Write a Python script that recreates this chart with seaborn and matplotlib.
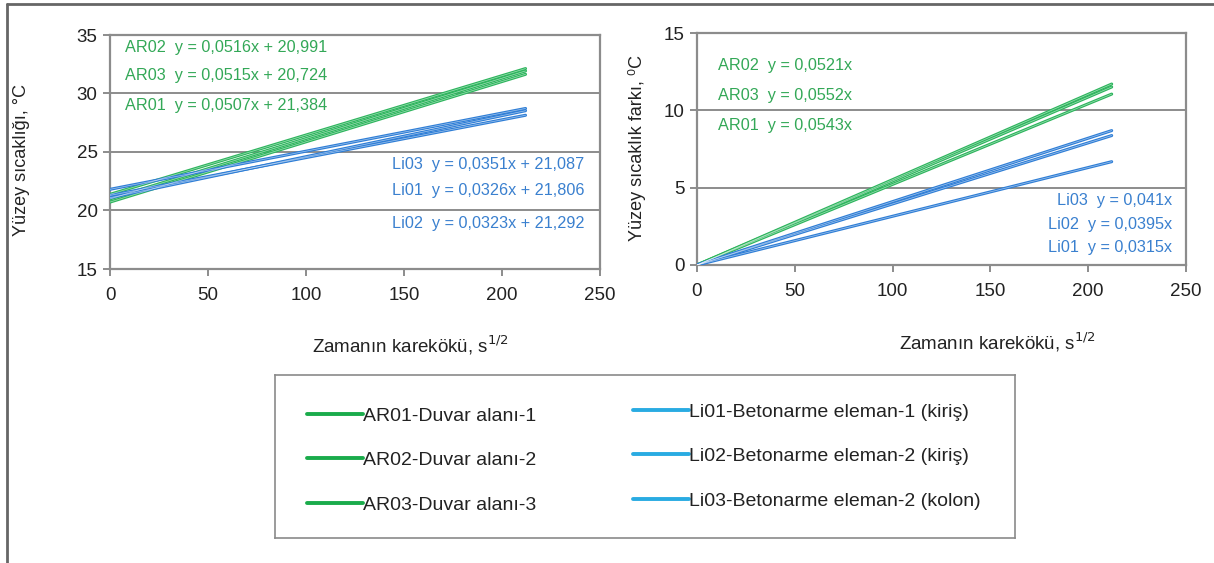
import matplotlib
matplotlib.use("Agg")
import matplotlib.pyplot as plt
from matplotlib.lines import Line2D
import seaborn as sns
import pandas as pd

# ---------------- data ----------------
series = ["AR01", "AR02", "AR03", "Li01", "Li02", "Li03"]
x_sqrt_time = [0, 212]
# Left panel: surface temperature (°C) at start / end of fit line
temp_AR01 = [21.38, 32.13]
temp_AR02 = [20.99, 31.93]
temp_AR03 = [20.72, 31.64]
temp_Li01 = [21.81, 28.72]
temp_Li02 = [21.29, 28.14]
temp_Li03 = [21.09, 28.53]
# Right panel: surface temperature difference (°C)
diff_AR01 = [0.0, 11.51]
diff_AR02 = [0.0, 11.05]
diff_AR03 = [0.0, 11.70]
diff_Li01 = [0.0, 6.68]
diff_Li02 = [0.0, 8.37]
diff_Li03 = [0.0, 8.69]

left_eq_green = ["AR02  y = 0,0516x + 20,991", "AR03  y = 0,0515x + 20,724", "AR01  y = 0,0507x + 21,384"]
left_eq_blue = ["Li03  y = 0,0351x + 21,087", "Li01  y = 0,0326x + 21,806", "Li02  y = 0,0323x + 21,292"]
right_eq_green = ["AR02  y = 0,0521x", "AR03  y = 0,0552x", "AR01  y = 0,0543x"]
right_eq_blue = ["Li03  y = 0,041x", "Li02  y = 0,0395x", "Li01  y = 0,0315x"]

legend_labels = ["AR01-Duvar alanı-1", "AR02-Duvar alanı-2", "AR03-Duvar alanı-3",
                 "Li01-Betonarme eleman-1 (kiriş)", "Li02-Betonarme eleman-2 (kiriş)",
                 "Li03-Betonarme eleman-2 (kolon)"]

xlabel = "Zamanın karekökü, s$^{1/2}$"
ylabel_left = "Yüzey sıcaklığı, °C"
ylabel_right = "Yüzey sıcaklık farkı, ⁰C"

# ---------------- style ----------------
sns.set_theme(style="white")
plt.rcParams["font.family"] = ["Liberation Sans", "DejaVu Sans"]

GREEN = "#2db55d"
BLUE = "#2f7ed6"
TXT_GREEN = "#33a857"
TXT_BLUE = "#3a80cf"
LEG_GREEN = "#1aab4b"
LEG_BLUE = "#29abe2"
GRID = "#8c8c8c"

palette = {s: (GREEN if s.startswith("AR") else BLUE) for s in series}

left_vals = [temp_AR01, temp_AR02, temp_AR03, temp_Li01, temp_Li02, temp_Li03]
right_vals = [diff_AR01, diff_AR02, diff_AR03, diff_Li01, diff_Li02, diff_Li03]


def make_df(vals):
    rows = []
    for s, v in zip(series, vals):
        for xx, yy in zip(x_sqrt_time, v):
            rows.append({"x": xx, "y": yy, "series": s})
    return pd.DataFrame(rows)


fig = plt.figure(figsize=(12.14, 5.63), dpi=100)
axL = fig.add_axes([110 / 1214, 1 - 269 / 563, 490 / 1214, 234 / 563])
axR = fig.add_axes([697 / 1214, 1 - 265 / 563, 489 / 1214, 232 / 563])


def style_axes(ax, ylim, yticks):
    ax.set_xlim(0, 250)
    ax.set_ylim(*ylim)
    ax.set_xticks([0, 50, 100, 150, 200, 250])
    ax.set_yticks(yticks)
    for sp in ax.spines.values():
        sp.set_color(GRID)
        sp.set_linewidth(1.6)
        sp.set_visible(True)
    ax.grid(False)
    for yv in yticks[1:-1]:
        ax.axhline(yv, color=GRID, lw=1.4, zorder=0)
    ax.tick_params(axis="both", which="major", direction="out", length=5, width=1.4,
                   color=GRID, labelsize=13.5, labelcolor="#222222", pad=4,
                   bottom=True, left=True)
    ax.tick_params(axis="x", pad=8)
    ax.set_xlabel("")
    ax.set_ylabel("")


for ax, vals in [(axL, left_vals), (axR, right_vals)]:
    df = make_df(vals)
    sns.lineplot(data=df, x="x", y="y", hue="series", palette=palette, ax=ax,
                 legend=False, lw=2.2, zorder=3)
    for ln in ax.get_lines():
        ax.plot(ln.get_xdata(), ln.get_ydata(), color="white", lw=0.5, alpha=0.55, zorder=4)

style_axes(axL, (15, 35), [15, 20, 25, 30, 35])
style_axes(axR, (0, 15), [0, 5, 10, 15])

eq_fs = 11.7
# left equations
for txt, yy in zip(left_eq_green, [33.9, 31.5, 29.0]):
    axL.text(7.7, yy, txt, color=TXT_GREEN, fontsize=eq_fs, va="center", ha="left")
for txt, yy in zip(left_eq_blue, [23.9, 21.7, 18.85]):
    axL.text(242, yy, txt, color=TXT_BLUE, fontsize=eq_fs, va="center", ha="right")
# right equations
for txt, yy in zip(right_eq_green, [12.87, 10.93, 8.99]):
    axR.text(10.7, yy, txt, color=TXT_GREEN, fontsize=eq_fs, va="center", ha="left")
for txt, yy in zip(right_eq_blue, [4.2, 2.65, 1.16]):
    axR.text(242.8, yy, txt, color=TXT_BLUE, fontsize=eq_fs, va="center", ha="right")

# axis labels
fig.text(410 / 1214, 1 - 345 / 563, xlabel, ha="center", va="center", fontsize=13.5, color="#222222")
fig.text(997 / 1214, 1 - 342 / 563, xlabel, ha="center", va="center", fontsize=13.5, color="#222222")
fig.text(22 / 1214, 1 - 160 / 563, ylabel_left, rotation=90, ha="center", va="center",
         fontsize=13, color="#222222")
fig.text(637 / 1214, 1 - 148 / 563, ylabel_right, rotation=90, ha="center", va="center",
         fontsize=13, color="#222222")

# legend box
axLeg = fig.add_axes([275 / 1214, 1 - 538 / 563, 740 / 1214, 163 / 563])
axLeg.set_xticks([])
axLeg.set_yticks([])
for sp in axLeg.spines.values():
    sp.set_color("#8a8a8a")
    sp.set_linewidth(1.2)
    sp.set_visible(True)
axLeg.patch.set_alpha(0)

h_green = [Line2D([], [], color=LEG_GREEN, lw=2.8) for _ in range(3)]
h_blue = [Line2D([], [], color=LEG_BLUE, lw=2.8) for _ in range(3)]
common = dict(frameon=False, fontsize=14, handlelength=2.9, handletextpad=0.0,
              labelspacing=1.38, borderpad=0, borderaxespad=0, loc="upper left",
              labelcolor="#222222")
leg1 = axLeg.legend(h_green, legend_labels[:3], bbox_to_anchor=(32 / 740, 1 - 32 / 163), **common)
axLeg.add_artist(leg1)
leg2 = axLeg.legend(h_blue, legend_labels[3:], bbox_to_anchor=(358 / 740, 1 - 28 / 163), **common)

# outer frame (top and left edges)
fig.add_artist(Line2D([7 / 1214, 7 / 1214], [0, 1 - 4 / 563], transform=fig.transFigure,
                      color="#666666", lw=2))
fig.add_artist(Line2D([7 / 1214, 1], [1 - 4 / 563, 1 - 4 / 563], transform=fig.transFigure,
                      color="#666666", lw=2))

fig.savefig("out.png", dpi=100)
